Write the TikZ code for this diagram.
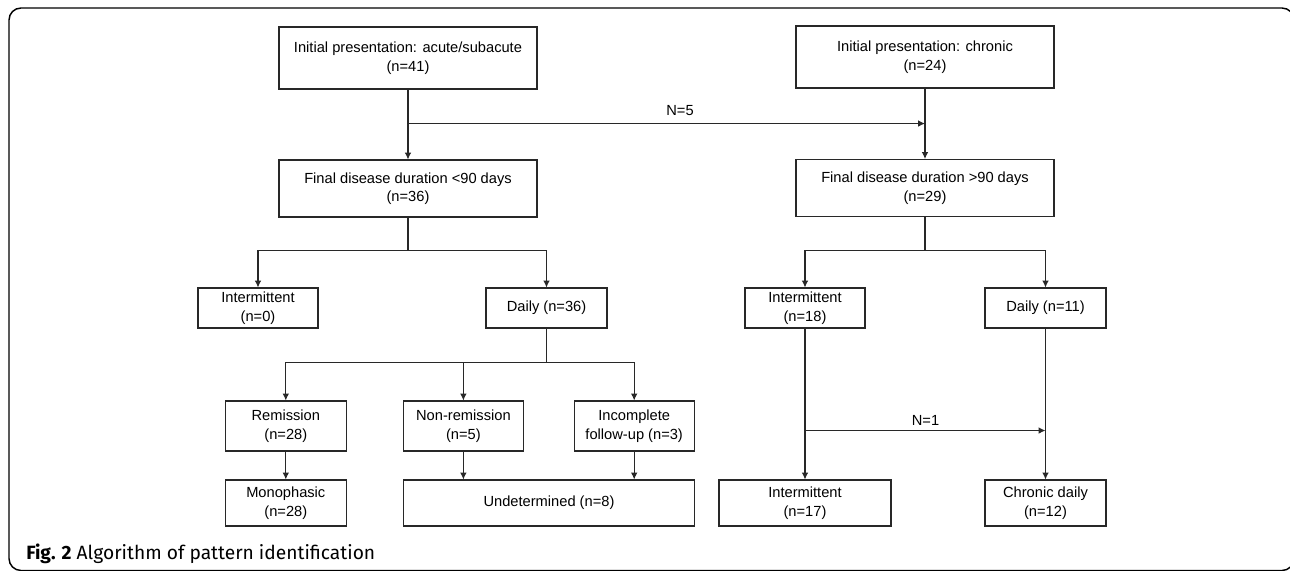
\documentclass[tikz,border=0pt]{standalone}
\usepackage{fontspec}
\setmainfont{Liberation Sans}
\newfontfamily\capfont{Fira Sans}
\usetikzlibrary{arrows.meta}

\definecolor{lncol}{RGB}{40,40,40}

\begin{document}
\begin{tikzpicture}[x=0.75pt,y=0.75pt,yscale=-1,xscale=1,
  box/.style={draw=lncol,line width=0.8pt,align=center,inner sep=1pt,font=\fontsize{11}{13.9}\selectfont},
  link/.style={draw=lncol,line width=0.8pt},
  tip/.style={link,-{Latex[length=5.2pt,width=5pt]}},
  lbl/.style={font=\fontsize{11}{13.9}\selectfont,inner sep=1pt}]
\useasboundingbox (0,0) rectangle (1290,571);

%Shape: Frame
\draw [line width=1.1pt,rounded corners=9pt] (1294,570.5) -- (9,570.5) -- (9,8) -- (1294,8) -- cycle ;

%Shape: Rectangle (first row)
\node [box,minimum width=193.5pt,minimum height=46.5pt] (acute) at (408,58) {Initial presentation: acute/subacute\\(n=41)};
\node [box,minimum width=193.5pt,minimum height=46.5pt] (chronic) at (925,57) {Initial presentation: chronic\\(n=24)};
%Shape: Rectangle (second row)
\node [box,minimum width=193.5pt,minimum height=42.75pt] (short) at (408,188.5) {Final disease duration <90 days\\(n=36)};
\node [box,minimum width=193.5pt,minimum height=42.75pt] (long) at (925,188) {Final disease duration >90 days\\(n=29)};
%Shape: Rectangle (third row)
\node [box,minimum width=90pt,minimum height=30pt] (intA) at (258,308) {Intermittent\\(n=0)};
\node [box,minimum width=90.75pt,minimum height=30pt] (dailyA) at (546.5,308) {Daily (n=36)};
\node [box,minimum width=90pt,minimum height=30pt] (intB) at (805,308) {Intermittent\\(n=18)};
\node [box,minimum width=90.75pt,minimum height=30pt] (dailyB) at (1045.5,308) {Daily (n=11)};
%Shape: Rectangle (fourth row)
\node [box,minimum width=90.4pt,minimum height=37.5pt] (remis) at (285.8,426) {Remission\\(n=28)};
\node [box,minimum width=90.2pt,minimum height=37.5pt] (nonremis) at (463.4,426) {Non-remission\\(n=5)};
\node [box,minimum width=90.2pt,minimum height=37.5pt] (incompl) at (634.2,426) {Incomplete\\follow-up (n=3)};
%Shape: Rectangle (last row)
\node [box,minimum width=90.4pt,minimum height=34.5pt] (mono) at (285.8,503) {Monophasic\\(n=28)};
\node [box,minimum width=218.25pt,minimum height=34.5pt] (undet) at (549,503) {Undetermined (n=8)};
\node [box,minimum width=129pt,minimum height=34.5pt] (intC) at (805,503) {Intermittent\\(n=17)};
\node [box,minimum width=90.75pt,minimum height=34.5pt] (chronicd) at (1045.5,503) {Chronic daily\\(n=12)};

%Straight Lines (top)
\draw [tip] (acute.south) -- (short.north) ;
\draw [tip] (chronic.south) -- (long.north) ;
\path (acute.south) ++(0,34) coordinate (jA) ;
\draw [tip] (jA) -- (jA -| chronic.south) ;

%Straight Lines (left branch)
\draw [link] (short.south) -- ++(0,32.5) coordinate (jS) ;
\draw [tip] (jS) -| (intA.north) ;
\draw [tip] (jS) -| (dailyA.north) ;
\draw [link] (dailyA.south) -- ++(0,34) coordinate (jD) ;
\draw [tip] (jD) -| (remis.north) ;
\draw [tip] (jD) -| (nonremis.north) ;
\draw [tip] (jD) -| (incompl.north) ;
\draw [tip] (remis.south) -- (mono.north) ;
\draw [tip] (nonremis.south) -- (nonremis.south |- undet.north) ;
\draw [tip] (incompl.south) -- (incompl.south |- undet.north) ;

%Straight Lines (right branch)
\draw [link] (long.south) -- ++(0,33) coordinate (jL) ;
\draw [tip] (jL) -| (intB.north) ;
\draw [tip] (jL) -| (dailyB.north) ;
\draw [tip] (intB.south) -- (intC.north) ;
\draw [tip] (dailyB.south) -- (chronicd.north) ;
\path (intB.south) ++(0,102) coordinate (jB) ;
\draw [tip] (jB) -- (jB -| dailyB.south) ;

% Text Node
\node [lbl] (nA) at (680,111) {N=5};
% Text Node
\node [lbl] (nB) at (925.5,420) {N=1};
% Text Node
\node [anchor=west,inner sep=0pt,font=\capfont\fontsize{14.4}{16}\selectfont] (caption) at (26,554) {\textbf{Fig. 2} Algorithm of pattern identification};

\end{tikzpicture}
\end{document}
